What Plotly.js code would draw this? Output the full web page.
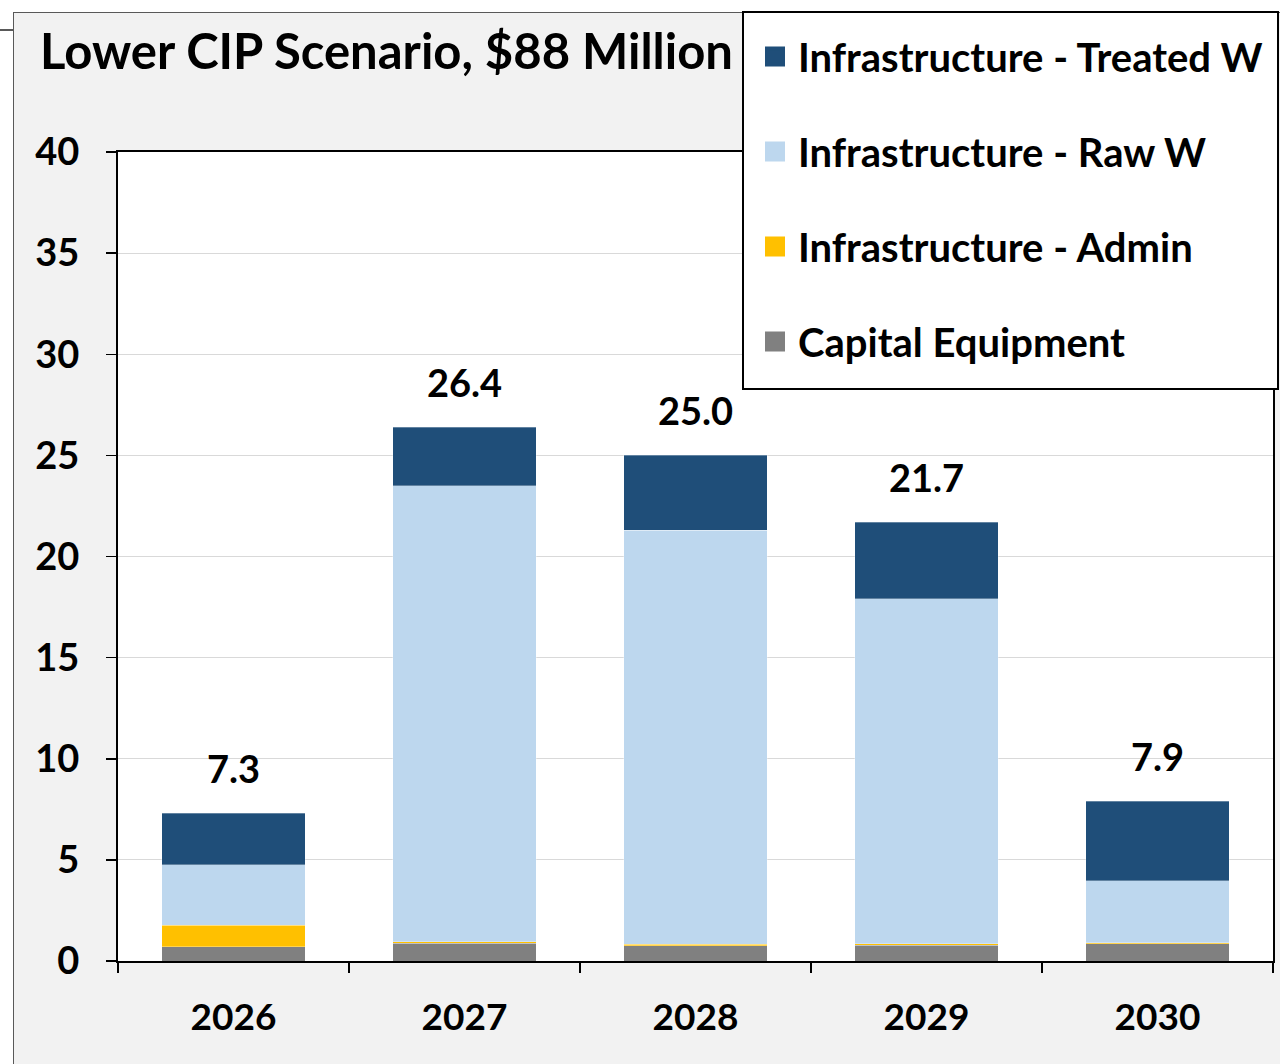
<!DOCTYPE html>
<html>
<head>
<meta charset="utf-8">
<script src="https://cdn.plot.ly/plotly-3.0.1.min.js"></script>
<style>
  html, body { margin: 0; padding: 0; background: #ffffff; }
  #wrap { position: relative; width: 1280px; height: 1064px; overflow: hidden; }
  #panel { position: absolute; left: 13px; top: 12px; width: 1300px; height: 1100px;
           background: #F2F2F2; border: 1px solid #595959; }
  #stub { position: absolute; left: 0; top: 29px; width: 13px; height: 0; border-top: 2px solid #595959; }
  #chart { position: absolute; left: 0; top: 0; width: 1280px; height: 1064px; }
</style>
</head>
<body>
<div id="wrap">
  <div id="panel"></div>
  <div id="stub"></div>
  <div id="chart"></div>
</div>
<script>
const years = ["2026", "2027", "2028", "2029", "2030"];
const capitalEquipment = [0.71, 0.87, 0.76, 0.79, 0.86];
const infraAdmin       = [1.07, 0.08, 0.07, 0.07, 0.04];
const infraRaw         = [2.97, 22.54, 20.48, 17.04, 3.06];
const infraTreated     = [2.55, 2.91, 3.69, 3.80, 3.94];
const totals           = [7.3, 26.4, 25.0, 21.7, 7.9];
const seriesNames = ["Capital Equipment", "Infrastructure - Admin", "Infrastructure - Raw W", "Infrastructure - Treated W"];
const seriesColors = ["#808080", "#FFC000", "#BDD7EE", "#1F4E79"];
const yTicks = [0, 5, 10, 15, 20, 25, 30, 35, 40];

const FONT = "Lato, 'Open Sans', sans-serif";
const seriesValues = [capitalEquipment, infraAdmin, infraRaw, infraTreated];

const barTraces = seriesValues.map((vals, i) => ({
  type: "bar",
  x: years,
  y: vals,
  name: seriesNames[i],
  showlegend: false,
  marker: { color: seriesColors[i], line: { color: "rgba(255,255,255,0.5)", width: 0.6 } },
  hoverinfo: "x+y+name"
}));

// legend entries (same series, square swatches)
const legendTraces = seriesNames.map((nm, i) => ({
  type: "scatter", mode: "markers",
  x: [null], y: [null],
  name: nm,
  legendgroup: "g" + i,
  legendrank: 4 - i,
  showlegend: true,
  marker: { symbol: "square", size: 23, color: seriesColors[i], line: { color: seriesColors[i], width: 4 } },
  hoverinfo: "skip"
}));

const annotations = years.map((yr, i) => ({
  x: i, y: totals[i], xref: "x", yref: "y",
  text: totals[i].toFixed(1),
  showarrow: false, yanchor: "bottom", yshift: 20,
  font: { family: FONT, size: 38, color: "#000000", weight: "bold" }
}));

const px2x = (px) => (px - 118) / 1155;
const px2y = (py) => (961 - py) / 809;

const layout = {
  width: 1280, height: 1064,
  paper_bgcolor: "rgba(0,0,0,0)",
  plot_bgcolor: "#FFFFFF",
  margin: { l: 118, r: 7, t: 152, b: 103, pad: 0 },
  barmode: "stack",
  bargap: 0.377,
  font: { family: FONT, color: "#000000" },
  title: {
    text: "<b>Lower CIP Scenario, $88 Million</b>",
    x: 40 / 1280, xanchor: "left", xref: "container",
    y: 1 - 52 / 1064, yanchor: "middle", yref: "container",
    font: { family: FONT, size: 49, color: "#000000" }
  },
  xaxis: {
    type: "category",
    categoryarray: years, categoryorder: "array",
    showline: true, linecolor: "#000000", linewidth: 2, mirror: true,
    ticks: "outside", tickson: "boundaries", ticklen: 10, tickcolor: "#000000", tickwidth: 1.5,
    ticklabelstandoff: 23, tickangle: 0,
    tickfont: { family: FONT, size: 37, color: "#000000", weight: "bold" },
    showgrid: false, fixedrange: true
  },
  yaxis: {
    range: [0, 40],
    tickvals: yTicks,
    showline: true, linecolor: "#000000", linewidth: 2, mirror: true,
    ticks: "outside", ticklen: 10, tickcolor: "#000000", tickwidth: 1.5,
    ticklabelstandoff: 19,
    tickfont: { family: FONT, size: 38, color: "#000000", weight: "bold" },
    showgrid: true, gridcolor: "#D9D9D9", gridwidth: 1,
    zeroline: false, fixedrange: true
  },
  shapes: [{
    type: "rect", xref: "paper", yref: "paper", layer: "above",
    x0: px2x(743), x1: px2x(1278), y0: px2y(389), y1: px2y(12),
    fillcolor: "#FFFFFF", line: { color: "#000000", width: 2 }
  }],
  legend: {
    x: px2x(752), xanchor: "left",
    y: px2y(24), yanchor: "top",
    bgcolor: "rgba(0,0,0,0)", borderwidth: 0,
    traceorder: "grouped",
    tracegroupgap: 40,
    itemwidth: 36,
    font: { family: FONT, size: 40, color: "#000000", weight: "bold" }
  },
  annotations: annotations,
  showlegend: true
};

Plotly.newPlot("chart", barTraces.concat(legendTraces), layout, { displayModeBar: false, staticPlot: true });
</script>
</body>
</html>
